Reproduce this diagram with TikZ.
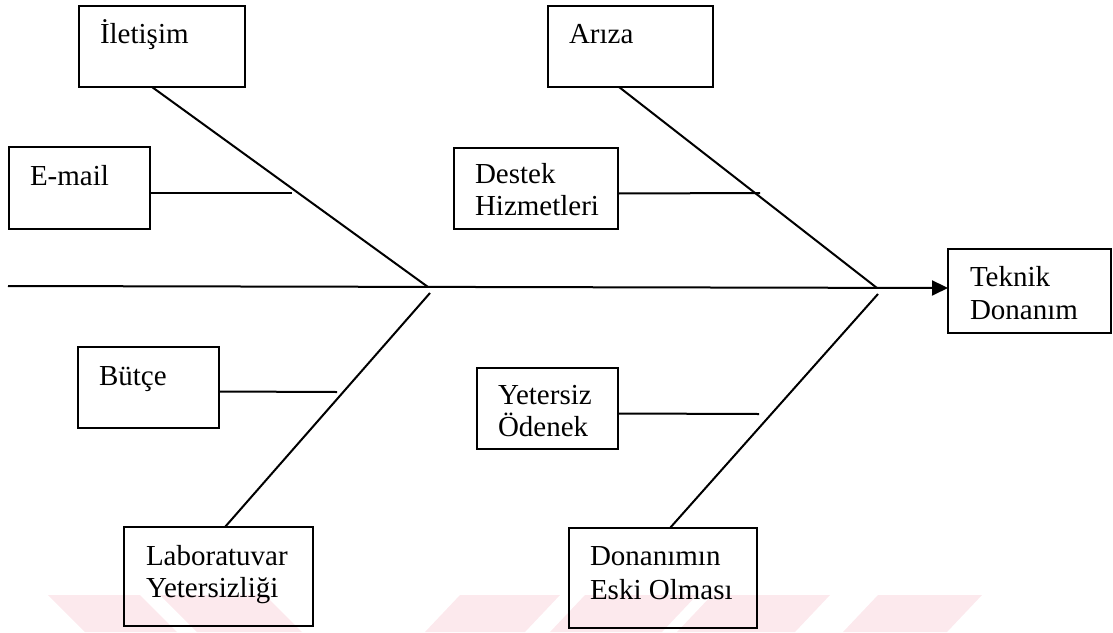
\documentclass[tikz,border=0pt]{standalone}
\usepackage{fontspec}
\setmainfont{Liberation Serif}
\usetikzlibrary{arrows.meta,calc}
\definecolor{wmpink}{RGB}{252,233,237}
\begin{document}
\begin{tikzpicture}[x=1pt,y=-1pt,
  box/.style={draw, line width=2pt, inner sep=0pt, outer sep=0pt, anchor=north west},
  lbl/.style={anchor=base west, inner sep=0pt, outer sep=0pt, font=\fontsize{29}{33}\selectfont},
  bone/.style={line width=2pt},
  spine/.style={line width=2pt, -{Triangle[length=16pt,width=15pt]}},
  stripe/.style={fill=wmpink, draw=none}
]
\useasboundingbox (0,0) rectangle (1113,632);

% faint stripes along the bottom edge
\fill[stripe] (48,595) -- (140,595) -- (177,632) -- (85,632) -- cycle;
\fill[stripe] (160,595) -- (265,595) -- (302,632) -- (197,632) -- cycle;
\fill[stripe] (460,595) -- (560,595) -- (525,632) -- (425,632) -- cycle;
\fill[stripe] (585,595) -- (697,595) -- (662,632) -- (550,632) -- cycle;
\fill[stripe] (712,595) -- (830,595) -- (795,632) -- (677,632) -- cycle;
\fill[stripe] (878,595) -- (982,595) -- (947,632) -- (843,632) -- cycle;

% cause boxes
\node[box, minimum width=166, minimum height=81] (ilet)   at (79,6)    {};
\node[box, minimum width=141, minimum height=82] (email)  at (9,147)   {};
\node[box, minimum width=141, minimum height=81] (butce)  at (78,347)  {};
\node[box, minimum width=189, minimum height=99] (lab)    at (124,527) {};
\node[box, minimum width=165, minimum height=81] (ariza)  at (548,6)   {};
\node[box, minimum width=164, minimum height=81] (destek) at (454,148) {};
\node[box, minimum width=141, minimum height=81] (yet)    at (477,368) {};
\node[box, minimum width=188, minimum height=100] (don)   at (569,528) {};
% effect box
\node[box, minimum width=163, minimum height=84] (tek)    at (948,249) {};

% box texts
\node[lbl] (ilet-t)    at ($(ilet.north west)+(21,37)$)   {İletişim};
\node[lbl] (email-t)   at ($(email.north west)+(21,38)$)  {E-mail};
\node[lbl] (butce-t)   at ($(butce.north west)+(21,38)$)  {Bütçe};
\node[lbl] (lab-t1)    at ($(lab.north west)+(22,38)$)    {Laboratuvar};
\node[lbl] (lab-t2)    at ($(lab.north west)+(22,70)$)    {Yetersizliği};
\node[lbl] (ariza-t)   at ($(ariza.north west)+(21,37)$)  {Arıza};
\node[lbl] (destek-t1) at ($(destek.north west)+(21,35)$) {Destek};
\node[lbl] (destek-t2) at ($(destek.north west)+(21,67)$) {Hizmetleri};
\node[lbl] (yet-t1)    at ($(yet.north west)+(21,36)$)    {Yetersiz};
\node[lbl] (yet-t2)    at ($(yet.north west)+(21,68)$)    {Ödenek};
\node[lbl] (don-t1)    at ($(don.north west)+(21,37)$)    {Donanımın};
\node[lbl] (don-t2)    at ($(don.north west)+(21,71)$)    {Eski Olması};
\node[lbl] (tek-t1)    at ($(tek.north west)+(22,37)$)    {Teknik};
\node[lbl] (tek-t2)    at ($(tek.north west)+(22,70)$)    {Donanım};

% junctions on the spine and free ends of the small bones
\coordinate (spineL) at (8,286);
\coordinate (J1)  at (428,287);
\coordinate (J1b) at (430,293);
\coordinate (J2)  at (877,288);
\coordinate (J2b) at (878,294);
\coordinate (emailE)  at (292,193);
\coordinate (destekE) at (760,193);
\coordinate (butceE)  at (337,392);
\coordinate (yetE)    at (759,414);

% spine with arrow into the effect box
\draw[spine] (spineL) -- (tek.west |- J2);

% main bones
\draw[bone] ($(ilet.south west)+(73,0)$)  -- (J1);
\draw[bone] ($(ariza.south west)+(71,0)$) -- (J2);
\draw[bone] (J1b) -- ($(lab.north west)+(101,0)$);
\draw[bone] (J2b) -- ($(don.north west)+(101,0)$);

% sub-causes
\draw[bone] ($(email.east)+(0,5)$)  -- (emailE);
\draw[bone] ($(destek.east)+(0,5)$) -- (destekE);
\draw[bone] ($(butce.east)+(0,4)$)  -- (butceE);
\draw[bone] ($(yet.east)+(0,5)$)    -- (yetE);
\end{tikzpicture}
\end{document}
